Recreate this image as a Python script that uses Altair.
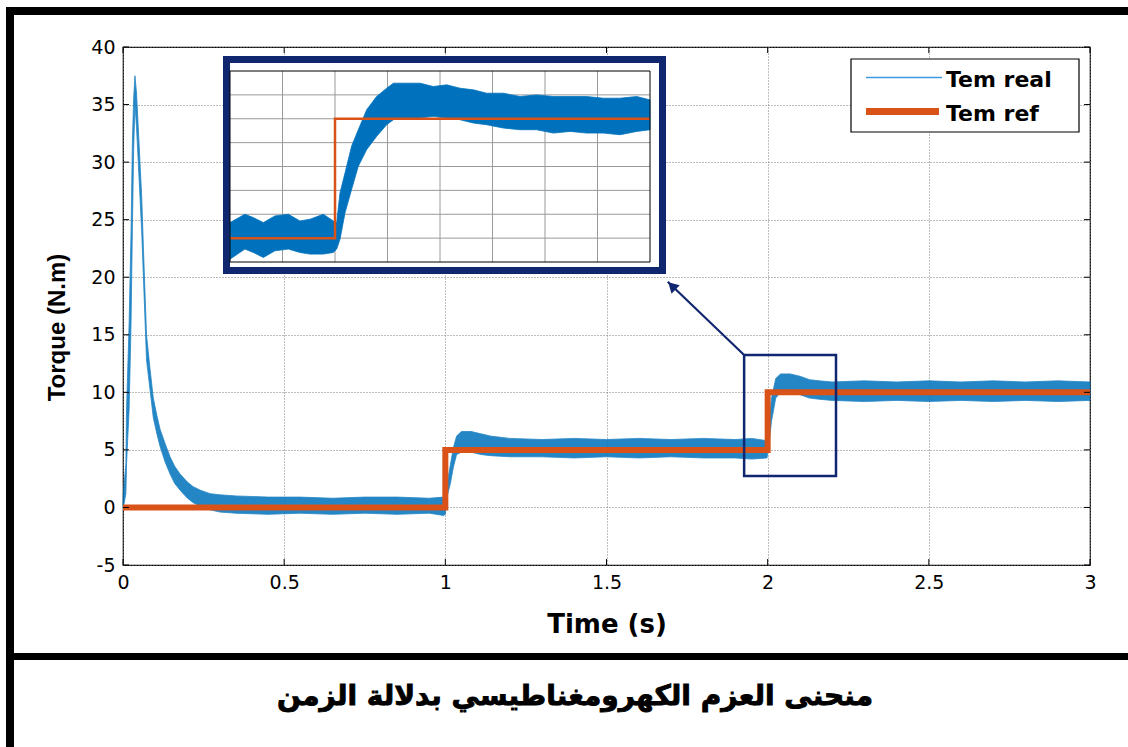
import altair as alt
import pandas as pd

# ---------------- data ----------------
# main "Tem real" envelope (time, lower, upper)
real_t = [0, 0.001, 0.009, 0.011, 0.019, 0.025, 0.029, 0.033, 0.037, 0.042, 0.050, 0.058,
          0.064, 0.073, 0.084, 0.094, 0.105, 0.115, 0.130, 0.146, 0.160, 0.177, 0.200, 0.218,
          0.240, 0.270, 0.300, 0.350, 0.450, 0.550, 0.650, 0.750, 0.850, 0.950, 0.995, 1.000,
          1.005, 1.015, 1.025, 1.035, 1.050, 1.080, 1.110, 1.140, 1.200, 1.300, 1.400, 1.500,
          1.600, 1.700, 1.800, 1.900, 1.950, 1.998, 2.003, 2.012, 2.025, 2.040, 2.070, 2.100,
          2.130, 2.160, 2.200, 2.300, 2.400, 2.500, 2.600, 2.700, 2.800, 2.900, 3.000]
real_lo = [0, 0, 1.2, 3.8, 8.5, 16.0, 24.0, 31.0, 35.0, 33.0, 28.5, 24.0,
           19.5, 12.8, 10.2, 7.8, 6.4, 5.3, 4.0, 2.9, 2.1, 1.5, 0.8, 0.4,
           0.1, -0.2, -0.4, -0.5, -0.6, -0.5, -0.6, -0.5, -0.6, -0.5, -0.7, -0.6,
           0.9, 2.0, 3.5, 4.6, 4.8, 4.8, 4.6, 4.5, 4.4, 4.4, 4.3, 4.4,
           4.3, 4.4, 4.3, 4.3, 4.2, 4.3, 5.3, 7.5, 9.5, 10.0, 10.0, 9.8,
           9.5, 9.4, 9.3, 9.2, 9.3, 9.2, 9.3, 9.2, 9.3, 9.2, 9.3]
real_hi = [0, 1.2, 3.8, 8.5, 16.0, 24.0, 31.6, 35.5, 37.5, 36.0, 31.5, 27.0,
           22.0, 15.0, 12.0, 9.5, 8.0, 6.8, 5.6, 4.4, 3.6, 2.9, 2.2, 1.8,
           1.5, 1.2, 1.1, 1.0, 0.9, 0.9, 0.8, 0.9, 0.9, 0.8, 0.9, 1.0,
           2.0, 3.6, 5.2, 6.2, 6.6, 6.6, 6.4, 6.2, 6.0, 5.9, 6.0, 5.9,
           6.0, 5.9, 6.0, 5.9, 6.0, 5.8, 7.0, 9.5, 11.2, 11.6, 11.6, 11.4,
           11.1, 11.0, 10.9, 11.0, 10.9, 11.0, 10.9, 11.0, 10.9, 11.0, 10.9]

# "Tem ref" step
ref_t = [0, 1, 1, 2, 2, 3]
ref_v = [0, 0, 5, 5, 10, 10]

# zoomed window (inset) data
zin_t = [1.95, 1.9571, 1.9611, 1.9659, 1.9714, 1.9778, 1.9833, 1.9881, 1.9944, 1.9992,
         2.0008, 2.0024, 2.0048, 2.0079, 2.0111, 2.0151, 2.0198, 2.0246, 2.0278, 2.0341,
         2.0405, 2.0468, 2.0532, 2.0595, 2.0659, 2.0722, 2.0802, 2.0881, 2.0960, 2.1040,
         2.1119, 2.1198, 2.1278, 2.1357, 2.1437, 2.15]
zin_lo = [4.12, 4.54, 4.40, 4.19, 4.47, 4.54, 4.40, 4.33, 4.33, 4.40,
          4.54, 4.96, 6.07, 7.04, 8.01, 8.71, 9.26, 9.75, 9.96, 10.03,
          10.03, 10.10, 10.03, 9.96, 9.82, 9.75, 9.61, 9.54, 9.54, 9.40,
          9.47, 9.40, 9.40, 9.33, 9.47, 9.54]
zin_hi = [5.65, 6.00, 5.86, 5.65, 5.93, 6.00, 5.72, 5.79, 6.00, 5.72,
          5.65, 6.90, 7.74, 8.85, 9.54, 10.38, 10.93, 11.28, 11.49, 11.49,
          11.49, 11.35, 11.42, 11.28, 11.21, 11.07, 11.07, 10.93, 11.00, 10.93,
          10.93, 10.93, 10.86, 10.86, 10.93, 10.79]
zin_ref_t = [1.95, 2.0, 2.0, 2.15]
zin_ref_v = [5, 5, 10, 10]
zin_x_grid = [1.975, 2.0, 2.025, 2.05, 2.075, 2.1, 2.125]
zin_y_grid = [5, 6, 7, 8, 9, 10, 11]

# zoom box on the main axes and arrow
box_t = [1.927, 2.212]
box_v = [2.73, 13.24]
arrow_t = [1.927, 1.690]
arrow_v = [13.24, 19.6]
head_t = [1.703]
head_v = [19.25]

x_ticks = [0, 0.5, 1, 1.5, 2, 2.5, 3]
y_ticks = [-5, 0, 5, 10, 15, 20, 25, 30, 35, 40]

legend_labels = ["Tem real", "Tem ref"]
caption = "منحنى العزم الكهرومغناطيسي بدلالة الزمن"

# ---------------- styles ----------------
BLUE = "#0072BD"
ORANGE = "#D95319"
NAVY = "#10276F"
W, H = 967, 518

xs = alt.Scale(domain=[0, 3], nice=False, zero=False)
ys = alt.Scale(domain=[-5, 40], nice=False, zero=False)
xs_in = alt.Scale(domain=[1.95, 2.15], range=[107, 527], nice=False, zero=False)
ys_in = alt.Scale(domain=[4, 12], range=[215, 24], nice=False, zero=False)

AX_X = alt.Axis(values=x_ticks, labelExpr="'' + datum.value", title="Time (s)",
                labelFlush=False, labelOverlap=False,
                titleX=W / 2, titleY=67, titleBaseline="alphabetic", titleAlign="center")
AX_Y = alt.Axis(values=y_ticks, labelExpr="'' + datum.value", title="Torque (N.m)",
                labelFlush=False, labelOverlap=False,
                titleAngle=270, titleX=-66, titleY=280, titleAlign="center", titleBaseline="middle",
                titleFont="Liberation Sans", titleFontSize=24)

real_df = pd.DataFrame({"t": real_t, "lo": real_lo, "hi": real_hi})
ref_df = pd.DataFrame({"t": ref_t, "v": ref_v})

band = alt.Chart(real_df).mark_area(color=BLUE, opacity=0.85, stroke=BLUE, strokeWidth=0.8).encode(
    x=alt.X("t:Q", scale=xs, axis=AX_X),
    y=alt.Y("lo:Q", scale=ys, axis=AX_Y),
    y2="hi:Q",
)

ref_line = alt.Chart(ref_df).mark_line(color=ORANGE, strokeWidth=6, strokeJoin="miter").encode(
    x=alt.X("t:Q", scale=xs, axis=AX_X),
    y=alt.Y("v:Q", scale=ys, axis=AX_Y),
    order="index:Q",
).transform_window(index="row_number()")

xt_df = pd.DataFrame({"t": x_ticks})
yt_df = pd.DataFrame({"v": y_ticks})
tick_b = alt.Chart(xt_df).mark_rule(color="black", strokeWidth=1).encode(
    x=alt.X("t:Q", scale=xs, axis=AX_X), y=alt.value(H), y2=alt.value(H - 6))
tick_t = alt.Chart(xt_df).mark_rule(color="black", strokeWidth=1).encode(
    x=alt.X("t:Q", scale=xs, axis=AX_X), y=alt.value(0), y2=alt.value(6))
tick_l = alt.Chart(yt_df).mark_rule(color="black", strokeWidth=1).encode(
    y=alt.Y("v:Q", scale=ys, axis=AX_Y), x=alt.value(0), x2=alt.value(6))
tick_r = alt.Chart(yt_df).mark_rule(color="black", strokeWidth=1).encode(
    y=alt.Y("v:Q", scale=ys, axis=AX_Y), x=alt.value(W), x2=alt.value(W - 6))

box_df = pd.DataFrame({"t": [box_t[0]], "t2": [box_t[1]], "v": [box_v[0]], "v2": [box_v[1]]})
zoom_box = alt.Chart(box_df).mark_rect(fillOpacity=0, stroke=NAVY, strokeWidth=2.5).encode(
    x=alt.X("t:Q", scale=xs, axis=AX_X), x2="t2:Q",
    y=alt.Y("v:Q", scale=ys, axis=AX_Y), y2="v2:Q")

# legend
one = pd.DataFrame({"a": [0]})
leg_box = alt.Chart(one).mark_rect(fill="white", stroke="black", strokeWidth=1.2).encode(
    x=alt.value(728), x2=alt.value(956), y=alt.value(12), y2=alt.value(85))
leg_l1 = alt.Chart(one).mark_rule(color="#3D9AE0", strokeWidth=1.5).encode(
    x=alt.value(743), x2=alt.value(819), y=alt.value(30.5))
leg_l2 = alt.Chart(one).mark_rule(color=ORANGE, strokeWidth=7).encode(
    x=alt.value(743), x2=alt.value(816), y=alt.value(64.5))
leg_t1 = alt.Chart(pd.DataFrame({"label": [legend_labels[0]]})).mark_text(
    font="DejaVu Sans", fontWeight="bold", fontSize=22, align="left", baseline="alphabetic", color="black"
).encode(x=alt.value(823), y=alt.value(40), text="label:N")
leg_t2 = alt.Chart(pd.DataFrame({"label": [legend_labels[1]]})).mark_text(
    font="DejaVu Sans", fontWeight="bold", fontSize=22, align="left", baseline="alphabetic", color="black"
).encode(x=alt.value(823), y=alt.value(74), text="label:N")

# frame and caption
border_left = alt.Chart(one).mark_rule(color="black", strokeWidth=8).encode(
    x=alt.value(-113), y=alt.value(-40), y2=alt.value(700))
border_top = alt.Chart(one).mark_rule(color="black", strokeWidth=8).encode(
    y=alt.value(-36), x=alt.value(-117), x2=alt.value(1005))
separator = alt.Chart(one).mark_rule(color="black", strokeWidth=7).encode(
    y=alt.value(609.5), x=alt.value(-117), x2=alt.value(1005))
cap = alt.Chart(pd.DataFrame({"label": [caption]})).mark_text(
    font="DejaVu Sans", fontWeight="bold", fontSize=28, align="center", baseline="middle", color="black",
    stroke="black", strokeWidth=0.9
).encode(x=alt.value(452), y=alt.value(650), text="label:N")

main = alt.layer(band, ref_line, tick_b, tick_t, tick_l, tick_r, zoom_box,
                 leg_box, leg_l1, leg_l2, leg_t1, leg_t2,
                 border_left, border_top, separator, cap)

# arrow (same mapping as main axes)
arrow_df = pd.DataFrame({"t": arrow_t, "v": arrow_v})
arrow_line = alt.Chart(arrow_df).mark_line(color=NAVY, strokeWidth=2.2).encode(
    x=alt.X("t:Q", scale=xs, axis=None), y=alt.Y("v:Q", scale=ys, axis=None))
head_df = pd.DataFrame({"t": head_t, "v": head_v})
arrow_head = alt.Chart(head_df).mark_point(shape="triangle-up", filled=True, color=NAVY, opacity=1,
                                           size=140, angle=314).encode(
    x=alt.X("t:Q", scale=xs, axis=None), y=alt.Y("v:Q", scale=ys, axis=None))
arrow = alt.layer(arrow_line, arrow_head)

# inset
frame = alt.Chart(one).mark_rect(fill="white", stroke=NAVY, strokeWidth=7).encode(
    x=alt.value(103.5), x2=alt.value(539.5), y=alt.value(12.5), y2=alt.value(223.5))
gx = alt.Chart(pd.DataFrame({"t": zin_x_grid})).mark_rule(color="#9a9a9a", strokeWidth=1).encode(
    x=alt.X("t:Q", scale=xs_in, axis=None),
    y=alt.YDatum(4, scale=ys_in, axis=None), y2=alt.Y2Datum(12))
gy = alt.Chart(pd.DataFrame({"v": zin_y_grid})).mark_rule(color="#9a9a9a", strokeWidth=1).encode(
    y=alt.Y("v:Q", scale=ys_in, axis=None),
    x=alt.XDatum(1.95, scale=xs_in, axis=None), x2=alt.X2Datum(2.15))
in_band = alt.Chart(pd.DataFrame({"t": zin_t, "lo": zin_lo, "hi": zin_hi})).mark_area(
    color=BLUE, opacity=1, stroke=BLUE, strokeWidth=0.8).encode(
    x=alt.X("t:Q", scale=xs_in, axis=None),
    y=alt.Y("lo:Q", scale=ys_in, axis=None), y2="hi:Q")
in_ref = alt.Chart(pd.DataFrame({"t": zin_ref_t, "v": zin_ref_v})).mark_line(
    color=ORANGE, strokeWidth=2.5, strokeJoin="miter").encode(
    x=alt.X("t:Q", scale=xs_in, axis=None),
    y=alt.Y("v:Q", scale=ys_in, axis=None),
    order="index:Q").transform_window(index="row_number()")
in_box = alt.Chart(pd.DataFrame({"t1": [1.95], "t2": [2.15], "v1": [4], "v2": [12]})).mark_rect(
    fillOpacity=0, stroke="black", strokeWidth=1).encode(
    x=alt.X("t1:Q", scale=xs_in, axis=None), x2="t2:Q",
    y=alt.Y("v1:Q", scale=ys_in, axis=None), y2="v2:Q")
inset = alt.layer(frame, gx, gy, in_band, in_ref, in_box)

chart = alt.layer(main, arrow, inset).resolve_scale(
    x="independent", y="independent"
).properties(
    width=W, height=H,
    autosize=alt.AutoSizeParams(type="none"),
    padding={"left": 123, "top": 47, "right": 38, "bottom": 182},
    background="white",
).configure_view(
    stroke="black", strokeWidth=1.2
).configure_axis(
    domain=False, ticks=False, grid=True, gridColor="#7a7a7a", gridDash=[1, 2], gridWidth=1,
    labelFont="DejaVu Sans", labelFontSize=19, labelColor="black", labelPadding=8,
    titleFont="DejaVu Sans", titleFontSize=26, titleFontWeight="bold", titleColor="black",
)

chart.save("out.html", embed_options={"renderer": "svg", "actions": False})
